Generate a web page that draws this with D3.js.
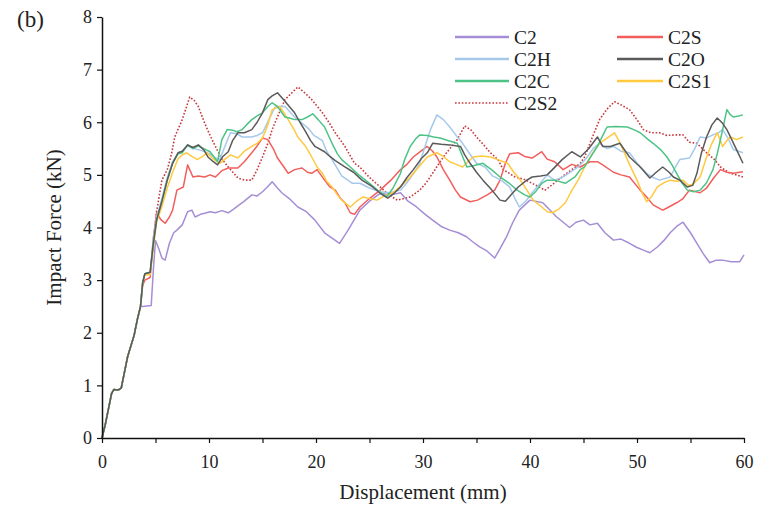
<!DOCTYPE html>
<html>
<head>
<meta charset="utf-8">
<script src="https://cdn.jsdelivr.net/npm/d3@7"></script>
<style>
  body { margin: 0; background: #fff; }
  text { font-family: "Liberation Serif", "Times New Roman", serif; fill: #222; }
</style>
</head>
<body>
<svg id="chart" width="776" height="508"></svg>
<script>
// Shared initial ramp (mm, kN) - all specimens overlap here
var ramp = [[0,0],[0.3,0.25],[0.6,0.55],[0.9,0.85],[1.1,0.92],[1.5,0.91],[1.8,0.95],[2.1,1.25],[2.4,1.55],[2.7,1.75],[3.0,1.95],[3.3,2.25],[3.6,2.5]];

var c2 = [[3.8,2.5],[4.6,2.52],[4.8,3.2],[5.0,3.75],[5.3,3.6],[5.6,3.42],[5.9,3.38],[6.3,3.7],[6.7,3.9],[7.0,3.95],[7.5,4.05],[8.0,4.3],[8.4,4.33],[8.7,4.2],[9.2,4.25],[9.6,4.27],[10.1,4.3],[10.6,4.28],[11.2,4.32],[11.8,4.28],[12.3,4.35],[12.7,4.41],[13.3,4.5],[14.0,4.62],[14.5,4.6],[15.0,4.68],[15.5,4.78],[15.9,4.87],[16.4,4.75],[16.8,4.66],[17.5,4.55],[18.3,4.39],[19.1,4.3],[19.9,4.14],[20.8,3.9],[21.5,3.8],[22.2,3.7],[23.0,3.95],[24.1,4.33],[25.0,4.5],[26.0,4.65],[27.0,4.62],[27.9,4.66],[28.6,4.5],[29.4,4.39],[30.2,4.25],[30.9,4.14],[31.7,4.02],[32.5,3.95],[33.3,3.9],[34.1,3.82],[34.7,3.72],[35.3,3.63],[36.0,3.55],[36.7,3.42],[37.2,3.6],[37.8,3.82],[38.4,4.1],[39.0,4.33],[40.0,4.52],[41.2,4.47],[42.5,4.2],[43.1,4.1],[43.7,4.0],[44.3,4.1],[45.0,4.14],[45.6,4.05],[46.3,4.08],[47.0,3.9],[47.8,3.76],[48.5,3.78],[49.3,3.7],[50.0,3.62],[50.6,3.57],[51.2,3.52],[51.9,3.63],[52.5,3.75],[53.1,3.9],[53.7,4.02],[54.3,4.1],[55.0,3.9],[55.6,3.7],[56.2,3.5],[56.8,3.33],[57.4,3.38],[58.0,3.38],[58.8,3.35],[59.6,3.35],[60,3.48]];

var c2s = [[3.8,2.9],[4.0,3.0],[4.5,3.05],[4.8,3.8],[5.1,4.28],[5.5,4.15],[5.9,4.08],[6.3,4.2],[6.6,4.33],[7.0,4.71],[7.6,4.77],[8.0,5.19],[8.5,4.96],[9.0,4.98],[9.6,4.96],[10.1,5.0],[10.6,4.96],[11.2,5.08],[11.8,5.13],[12.7,5.13],[13.3,5.25],[14.0,5.42],[14.5,5.55],[15.0,5.7],[15.5,5.67],[16.0,5.5],[16.4,5.32],[17.0,5.15],[17.4,5.03],[18.0,5.1],[18.7,5.13],[19.2,5.05],[19.6,5.03],[20.1,5.1],[20.8,4.9],[21.3,4.77],[21.8,4.71],[22.3,4.55],[22.7,4.47],[23.2,4.28],[23.6,4.25],[24.1,4.39],[25.0,4.55],[26.0,4.71],[27.0,4.9],[27.9,5.1],[28.5,5.2],[29.1,5.34],[29.8,5.45],[30.4,5.54],[30.9,5.45],[31.3,5.34],[31.9,5.1],[32.5,4.9],[33.0,4.72],[33.5,4.58],[34.4,4.49],[35.1,4.52],[36.0,4.62],[36.7,4.71],[37.2,4.9],[37.7,5.22],[38.1,5.4],[38.9,5.42],[39.5,5.35],[40.2,5.32],[41.1,5.44],[41.6,5.3],[42.3,5.25],[43.1,5.1],[43.9,5.2],[44.7,5.15],[45.6,5.25],[46.3,5.25],[46.8,5.19],[47.8,5.05],[48.5,5.0],[49.3,4.96],[50.3,4.71],[50.9,4.58],[51.5,4.43],[52.4,4.33],[52.8,4.37],[53.7,4.47],[54.3,4.55],[54.9,4.71],[55.9,4.66],[56.5,4.75],[57.2,4.95],[57.8,5.1],[58.4,5.05],[59.0,5.03],[59.9,5.06]];

var c2h = [[3.8,2.95],[4.0,3.12],[4.5,3.15],[4.8,3.8],[5.1,4.2],[5.6,4.55],[6.1,4.95],[6.6,5.25],[7.1,5.4],[7.5,5.45],[8.0,5.55],[8.5,5.5],[9.0,5.48],[9.5,5.45],[10.1,5.4],[10.6,5.32],[11.0,5.29],[11.5,5.55],[12.0,5.8],[12.6,5.78],[13.1,5.72],[14.0,5.72],[14.5,5.75],[15.0,5.8],[15.6,6.05],[16.2,6.3],[17.1,6.3],[18.0,6.1],[18.6,6.0],[19.3,5.88],[19.8,5.75],[20.6,5.65],[21.0,5.45],[21.5,5.29],[22.4,4.98],[23.4,4.84],[24.1,4.84],[25.0,4.75],[26.0,4.68],[26.9,4.66],[27.9,4.71],[28.5,4.85],[29.2,5.05],[29.7,5.22],[30.2,5.55],[30.7,5.86],[31.3,6.14],[31.9,6.05],[32.5,5.91],[33.1,5.75],[33.7,5.6],[34.3,5.42],[35.0,5.22],[35.8,5.15],[36.5,4.98],[37.3,4.9],[38.1,4.77],[38.6,4.55],[39.0,4.39],[39.6,4.5],[40.2,4.66],[41.0,4.85],[41.6,5.0],[42.3,4.9],[43.0,4.95],[43.6,5.03],[44.5,5.15],[45.2,5.3],[45.9,5.5],[46.5,5.6],[47.2,5.5],[47.8,5.54],[48.5,5.45],[49.3,5.42],[50.1,5.2],[50.9,5.03],[51.5,4.95],[52.1,4.9],[53.1,4.96],[53.6,5.15],[54.0,5.29],[54.9,5.32],[55.4,5.5],[55.9,5.72],[56.5,5.7],[57.1,5.76],[57.6,5.8],[58.0,5.86],[58.5,5.7],[59.0,5.48],[59.5,5.45],[59.9,5.42]];

var c2o = [[3.8,2.95],[4.0,3.12],[4.5,3.15],[4.8,3.7],[5.1,4.14],[5.6,4.5],[6.1,4.9],[6.6,5.22],[7.1,5.42],[7.5,5.45],[8.0,5.57],[8.5,5.52],[9.0,5.57],[9.5,5.48],[9.9,5.34],[10.4,5.25],[10.8,5.19],[11.3,5.35],[11.8,5.44],[12.2,5.65],[12.7,5.8],[13.3,5.8],[14.0,5.86],[14.5,6.0],[15.0,6.18],[15.5,6.43],[15.9,6.5],[16.4,6.56],[17.1,6.4],[17.5,6.3],[18.0,6.18],[18.5,6.0],[19.0,5.83],[19.5,5.65],[19.9,5.54],[20.8,5.44],[21.3,5.35],[21.8,5.27],[22.7,5.15],[23.5,5.05],[24.3,4.9],[25.3,4.77],[26.0,4.65],[26.7,4.56],[27.3,4.65],[27.9,4.77],[28.5,4.95],[29.1,5.1],[29.8,5.3],[30.4,5.42],[30.9,5.6],[31.7,5.58],[32.5,5.57],[33.5,5.54],[33.9,5.38],[34.4,5.22],[35.0,5.05],[35.6,4.9],[36.4,4.72],[37.2,4.52],[37.7,4.5],[38.4,4.66],[38.9,4.77],[39.7,4.9],[40.2,4.96],[41.0,4.98],[41.6,5.0],[42.1,5.1],[43.0,5.29],[43.9,5.44],[44.7,5.34],[45.5,5.5],[46.3,5.72],[46.8,5.54],[47.5,5.54],[48.4,5.6],[49.3,5.34],[50.3,5.15],[51.2,4.94],[51.8,5.05],[52.4,5.15],[53.0,5.05],[53.4,4.96],[54.0,4.9],[54.7,4.77],[55.2,4.8],[55.6,5.03],[56.0,5.4],[56.5,5.72],[57.0,5.95],[57.5,6.08],[58.0,5.98],[58.4,5.86],[58.9,5.65],[59.3,5.48],[59.9,5.22]];

var c2c = [[3.8,2.95],[4.0,3.12],[4.5,3.15],[4.8,3.7],[5.1,4.14],[5.6,4.5],[6.1,4.9],[6.6,5.22],[7.1,5.4],[7.5,5.42],[8.0,5.57],[8.5,5.5],[9.0,5.55],[9.5,5.5],[10.1,5.44],[10.8,5.25],[11.2,5.67],[11.7,5.86],[12.2,5.85],[12.6,5.82],[13.1,5.86],[13.5,5.95],[14.0,6.05],[14.5,6.12],[15.0,6.18],[15.5,6.3],[15.9,6.37],[16.4,6.3],[17.1,6.1],[17.5,6.08],[18.0,6.05],[18.7,6.05],[19.2,6.1],[19.7,6.16],[20.2,6.05],[20.8,5.91],[21.5,5.6],[22.0,5.4],[22.4,5.29],[23.2,5.15],[24.0,5.0],[25.0,4.84],[25.8,4.7],[26.6,4.58],[27.2,4.75],[27.9,5.03],[28.3,5.3],[28.8,5.54],[29.3,5.68],[29.7,5.76],[30.4,5.75],[31.0,5.72],[31.6,5.7],[32.4,5.65],[33.2,5.6],[33.7,5.35],[34.1,5.15],[34.8,5.18],[35.6,5.22],[36.4,5.1],[37.2,4.96],[38.0,4.85],[38.8,4.71],[39.5,4.62],[40.0,4.58],[40.6,4.7],[41.1,4.84],[41.6,4.9],[42.3,4.9],[43.3,4.84],[44.2,4.96],[44.7,5.1],[45.1,5.15],[45.7,5.35],[46.3,5.54],[46.8,5.75],[47.2,5.91],[48.0,5.92],[49.1,5.91],[49.8,5.85],[50.3,5.8],[51.0,5.68],[51.5,5.6],[52.2,5.48],[52.8,5.34],[53.3,5.18],[53.7,5.03],[54.2,4.85],[54.7,4.71],[55.3,4.68],[55.9,4.71],[56.5,4.85],[57.1,5.1],[57.5,5.4],[57.8,5.67],[58.1,5.95],[58.4,6.24],[58.7,6.15],[59.0,6.1],[59.5,6.12],[59.9,6.14]];

var c2s1 = [[3.8,2.95],[4.0,3.1],[4.5,3.1],[4.8,3.6],[5.1,4.1],[5.6,4.4],[6.1,4.75],[6.6,5.05],[7.1,5.3],[7.5,5.38],[7.9,5.42],[8.4,5.35],[8.9,5.29],[9.4,5.35],[9.8,5.42],[10.4,5.3],[11.0,5.22],[11.5,5.3],[12.0,5.38],[12.7,5.32],[13.3,5.45],[14.0,5.54],[14.5,5.6],[15.0,5.7],[15.5,5.95],[15.9,6.24],[16.6,6.3],[17.0,6.18],[17.4,6.05],[17.9,5.88],[18.3,5.72],[19.0,5.55],[19.6,5.34],[20.1,5.15],[20.6,5.03],[21.0,4.88],[21.5,4.77],[22.0,4.62],[22.4,4.52],[23.2,4.39],[23.8,4.5],[24.4,4.58],[25.0,4.55],[25.7,4.52],[26.4,4.6],[27.2,4.66],[28.0,4.8],[28.8,4.96],[29.6,5.15],[30.4,5.34],[31.3,5.42],[31.9,5.35],[32.5,5.25],[33.1,5.2],[33.7,5.15],[34.2,5.25],[34.7,5.34],[35.5,5.36],[36.3,5.34],[37.1,5.28],[37.9,5.22],[38.5,5.05],[39.1,4.9],[39.8,4.68],[40.3,4.52],[41.1,4.39],[41.6,4.3],[42.1,4.28],[42.7,4.35],[43.3,4.47],[43.9,4.7],[44.5,4.9],[45.1,5.15],[45.8,5.4],[46.5,5.6],[47.2,5.7],[47.9,5.8],[48.3,5.65],[48.7,5.48],[49.3,5.2],[50.0,4.9],[50.5,4.65],[50.9,4.49],[51.4,4.6],[51.9,4.77],[52.5,4.85],[53.1,4.9],[53.7,4.88],[54.3,4.9],[54.8,4.8],[55.2,4.82],[55.9,4.96],[56.5,5.34],[57.0,5.6],[57.5,5.8],[58.0,5.54],[58.4,5.65],[58.7,5.72],[59.3,5.67],[59.9,5.72]];

var c2s2 = [[3.8,2.95],[4.0,3.1],[4.5,3.12],[4.8,3.7],[5.1,4.3],[5.6,4.9],[6.1,5.1],[6.5,5.4],[6.8,5.72],[7.5,6.05],[8.2,6.48],[8.6,6.42],[9.0,6.3],[9.6,5.98],[10.1,5.75],[10.6,5.54],[11.2,5.3],[11.8,5.15],[12.7,4.94],[13.3,4.9],[14.0,4.9],[14.5,5.1],[15.0,5.34],[15.5,5.6],[15.9,5.86],[16.5,6.15],[17.1,6.43],[17.7,6.55],[18.3,6.67],[19.0,6.55],[19.6,6.43],[20.6,6.18],[21.2,6.0],[21.8,5.8],[22.7,5.54],[23.6,5.22],[24.1,5.15],[25.0,4.95],[26.0,4.77],[26.8,4.62],[27.6,4.52],[28.2,4.55],[28.8,4.58],[29.7,4.71],[30.3,4.85],[30.9,5.03],[31.6,5.25],[32.2,5.42],[33.2,5.67],[33.9,5.93],[34.5,5.85],[35.0,5.72],[35.8,5.54],[36.3,5.42],[37.0,5.29],[37.5,5.1],[38.6,4.96],[39.4,4.92],[40.2,4.84],[41.4,4.71],[42.0,4.8],[42.6,4.9],[43.9,5.1],[44.7,5.22],[45.1,5.34],[45.8,5.7],[46.5,6.05],[47.2,6.25],[47.9,6.39],[48.6,6.32],[49.3,6.24],[50.0,6.05],[50.6,5.86],[51.3,5.8],[52.1,5.8],[52.8,5.75],[53.7,5.76],[54.3,5.76],[54.9,5.62],[55.6,5.6],[56.5,5.42],[57.2,5.3],[57.8,5.15],[58.7,5.03],[59.3,5.0],[59.9,4.96]];

var names  = ["C2", "C2S", "C2H", "C2O", "C2C", "C2S1", "C2S2"];
var tails  = [c2, c2s, c2h, c2o, c2c, c2s1, c2s2];
var colors = ["#a58ed6", "#f25e5c", "#a6c9eb", "#5a5a5a", "#4dc386", "#ffc940", "#c8383c"];

var xTicks = d3.range(0, 61, 5);
var yTicks = d3.range(0, 9, 1);

// Plot area
var width = 776, height = 508;
var margin = {top: 17, right: 32, bottom: 70, left: 102};

var svg = d3.select("svg#chart");

var x = d3.scaleLinear().domain([0, 60]).range([margin.left, width - margin.right]);
var y = d3.scaleLinear().domain([0, 8]).range([height - margin.bottom, margin.top]);

var line = d3.line()
  .x(d => x(d[0]))
  .y(d => y(d[1]));

// dotted C2S2 first, the rest drawn over it
var order = [6, 0, 1, 2, 5, 4, 3];
order.forEach(function(i) {
  svg.append("path")
    .datum(ramp.concat(tails[i]))
    .attr("fill", "none")
    .attr("stroke", colors[i])
    .attr("stroke-width", i == 6 ? 1.6 : 1.5)
    .attr("stroke-dasharray", i == 6 ? "1.6,1.8" : null)
    .attr("stroke-linejoin", "round")
    .attr("d", line);
});

// Axes
var xAxis = svg.append("g")
  .attr("transform", "translate(0," + y(0) + ")")
  .call(d3.axisBottom(x).tickValues(xTicks).tickSize(5).tickSizeOuter(0)
    .tickFormat(d => d % 10 == 0 ? d : ""));

var yAxis = svg.append("g")
  .attr("transform", "translate(" + x(0) + ",0)")
  .call(d3.axisLeft(y).tickValues(yTicks).tickSize(5).tickSizeOuter(0));

[xAxis, yAxis].forEach(function(a) {
  a.select(".domain").attr("stroke", "#111").attr("stroke-width", 1.5);
  a.selectAll(".tick line").attr("stroke", "#111").attr("stroke-width", 1.2);
  a.selectAll(".tick text")
    .attr("font-family", "Liberation Serif, serif")
    .attr("font-size", 18)
    .attr("fill", "#222");
});
xAxis.selectAll(".tick text").attr("y", 17);
yAxis.selectAll(".tick text").attr("x", -10);

// Axis titles
svg.append("text")
  .attr("x", (x(0) + x(60)) / 2)
  .attr("y", 499)
  .attr("text-anchor", "middle")
  .attr("font-size", 21)
  .text("Displacement (mm)");

svg.append("text")
  .attr("transform", "translate(61," + y(4) + ") rotate(-90)")
  .attr("text-anchor", "middle")
  .attr("font-size", 21)
  .text("Impact Force (kN)");

svg.append("text")
  .attr("x", 17)
  .attr("y", 27)
  .attr("font-size", 23)
  .text("(b)");

// Legend, two columns
var legCols = [0, 1, 0, 1, 0, 1, 0];
var legRows = [0, 0, 1, 1, 2, 2, 3];
var legX = [455, 617];
var legY = [37, 59, 81, 103];

var leg = svg.selectAll("g.legend")
  .data(names)
  .enter().append("g")
  .attr("class", "legend")
  .attr("transform", (d, i) => "translate(" + legX[legCols[i]] + "," + legY[legRows[i]] + ")");

leg.append("line")
  .attr("x1", 0)
  .attr("x2", (d, i) => legCols[i] == 0 ? 54 : 46)
  .attr("y1", 0)
  .attr("y2", 0)
  .attr("stroke", (d, i) => colors[i])
  .attr("stroke-width", (d, i) => i == 6 ? 1.6 : 2.5)
  .attr("stroke-dasharray", (d, i) => i == 6 ? "1.6,1.8" : null);

leg.append("text")
  .attr("x", (d, i) => legCols[i] == 0 ? 59 : 51)
  .attr("y", 0)
  .attr("dy", "0.35em")
  .attr("font-size", 19.5)
  .text(d => d);
</script>
</body>
</html>
